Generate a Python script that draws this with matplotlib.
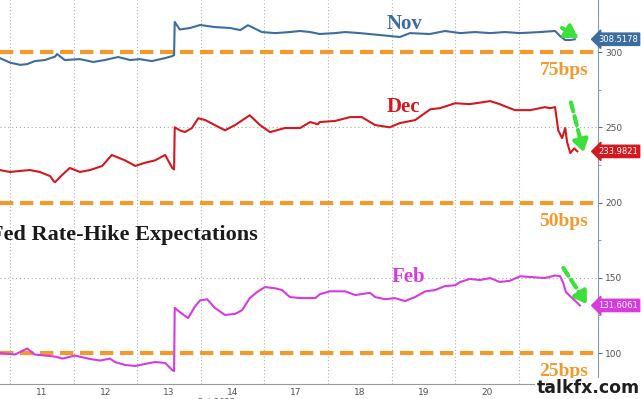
import matplotlib
matplotlib.use("Agg")
import matplotlib.pyplot as plt

# trading-day positions: 0 = start of Oct 11 session, 1 day per unit
nov_x = [-0.16, 0.0, 0.16, 0.27, 0.39, 0.55, 0.71, 0.74, 0.86, 1.10, 1.31, 1.49, 1.70, 1.89,
         2.04, 2.23, 2.44, 2.55, 2.58, 2.59, 2.67, 2.83, 2.99, 3.22, 3.46, 3.62, 3.74, 3.77,
         3.96, 4.17, 4.40, 4.56, 4.72, 4.87, 5.11, 5.27, 5.50, 5.82, 6.13, 6.29, 6.60, 6.84,
         7.08, 7.31, 7.55, 7.78, 8.02, 8.33, 8.57, 8.65, 8.73, 8.81, 8.88]
nov_y = [296, 293, 291.5, 292, 294, 294.7, 297, 298.7, 294.7, 295.3, 293.4, 294.7, 296.7, 294.7,
         295.3, 294, 296, 297.3, 298, 320, 315, 316, 318, 316.6, 316, 314.6, 317.8, 317.3,
         313.3, 312.6, 313.3, 314, 313.3, 312, 312.6, 313.3, 312.6, 311.3, 310, 312.6, 312, 314,
         312.6, 313.3, 312.6, 313.3, 312.6, 313.3, 314, 310.6, 308, 308, 308.5]

dec_x = [-0.16, 0.0, 0.16, 0.31, 0.47, 0.63, 0.69, 0.71, 0.82, 0.94, 1.10, 1.26, 1.45, 1.60,
         1.81, 1.97, 2.12, 2.28, 2.44, 2.55, 2.58, 2.59, 2.67, 2.75, 2.86, 2.96, 3.07, 3.22,
         3.38, 3.54, 3.77, 3.93, 4.09, 4.32, 4.56, 4.72, 4.84, 4.87, 5.11, 5.35, 5.53, 5.74,
         5.97, 6.13, 6.37, 6.61, 6.76, 7.00, 7.23, 7.55, 7.70, 7.78, 7.94, 8.18, 8.41, 8.49,
         8.57, 8.62, 8.68, 8.73, 8.76, 8.81, 8.87, 8.92]
dec_y = [221.6, 220.3, 221, 221.6, 220.3, 217.6, 214, 213.6, 218.3, 223, 220.3, 221.6, 224.3,
         231.6, 228, 224.3, 226.4, 228, 231.6, 223, 222, 250, 248, 246.8, 249.5, 256, 254.8,
         251.5, 248, 251.5, 258, 251.5, 246.8, 249.5, 249.5, 253.5, 252, 253.5, 254.2, 256.8,
         256.8, 251.5, 250, 252.8, 254.8, 262, 262.7, 266, 265.4, 267.4, 265.4, 264, 261.4,
         261.4, 263.4, 262.7, 263.4, 248, 242.8, 249.5, 240, 232.9, 236, 234.0]

feb_x = [-0.16, 0.08, 0.27, 0.39, 0.55, 0.71, 0.83, 1.02, 1.26, 1.42, 1.57, 1.65, 1.81, 1.97,
         2.12, 2.28, 2.44, 2.55, 2.58, 2.59, 2.67, 2.80, 2.91, 2.99, 3.10, 3.22, 3.38, 3.54,
         3.65, 3.77, 3.90, 4.01, 4.17, 4.28, 4.40, 4.56, 4.80, 4.87, 5.03, 5.27, 5.43, 5.66,
         5.74, 5.90, 6.05, 6.21, 6.37, 6.53, 6.68, 6.84, 7.00, 7.08, 7.23, 7.39, 7.55, 7.70,
         7.86, 8.02, 8.25, 8.41, 8.57, 8.65, 8.70, 8.74, 8.84, 8.92, 8.96]
feb_y = [100, 99, 103, 99, 98.3, 97.6, 96.3, 98.3, 96, 95, 96.3, 94, 92, 91.4, 92.7, 94, 93.4,
         88.7, 88, 130, 127.2, 123.2, 131, 135, 135.7, 130, 125.3, 126, 128.5, 136.5, 141, 143.8,
         143, 141.8, 137.2, 136.5, 136.5, 139, 141, 141, 138.5, 140, 137.2, 135.7, 136.5, 134.5,
         137.2, 141, 141.8, 144.5, 145, 147.2, 149.2, 148.5, 149.8, 147.2, 148, 151, 150.3,
         149.8, 151.5, 151, 146.5, 140.5, 136.5, 133.3, 131.6]

day_labels = ["11", "12", "13", "14", "17", "18", "19", "20"]
hike_levels = [300, 200, 100]
hike_labels = ["75bps", "50bps", "25bps"]
last_values = ["308.5178", "233.9821", "131.6061"]

nov_c = "#3d6d9e"
dec_c = "#d31820"
feb_c = "#d63be0"
orange = "#f29a2e"
green = "#3be03b"

fig = plt.figure(figsize=(6.41, 3.99), dpi=100)
ax = fig.add_axes([0.0, 15 / 399, 598 / 641, 384 / 399])
ax.set_xlim(-0.157, 9.245)
ax.set_ylim(79.4, 334.6)

# grid
for b in range(0, 9):
    ax.axvline(b, color="#b0b0b0", lw=0.8, ls=(0, (1, 2)), zorder=0)
for lvl in [150, 250]:
    ax.axhline(lvl, color="#a8a8a8", lw=0.8, ls=(0, (1, 2.5)), zorder=0)

# hike thresholds
for lvl, lab in zip(hike_levels, hike_labels):
    ax.axhline(lvl, color=orange, lw=3, dashes=(3.2, 1.6), zorder=1)
    ax.text(8.71, lvl - 12.5, lab, color=orange, fontsize=14, fontweight="bold",
            family="Liberation Serif", ha="center", va="center")

ax.plot(nov_x, nov_y, color=nov_c, lw=1.5, zorder=3)
ax.plot(dec_x, dec_y, color=dec_c, lw=1.5, zorder=3)
ax.plot(feb_x, feb_y, color=feb_c, lw=1.5, zorder=3)

ax.text(6.2, 318.6, "Nov", color=nov_c, fontsize=15, fontweight="bold", family="Liberation Serif",
        ha="center", va="center")
ax.text(6.18, 263.5, "Dec", color=dec_c, fontsize=15, fontweight="bold", family="Liberation Serif",
        ha="center", va="center")
ax.text(6.27, 150.5, "Feb", color=feb_c, fontsize=15, fontweight="bold", family="Liberation Serif",
        ha="center", va="center")
ax.text(-0.32, 178.4, "Fed Rate-Hike Expectations", color="#1a1a1a", fontsize=16,
        fontweight="bold", family="Liberation Serif", ha="left", va="center")

# green dashed arrows
arrows = [((8.68, 316.0), (8.93, 309.5)),
          ((8.82, 266.5), (9.02, 233.5)),
          ((8.70, 156.5), (9.07, 132.5))]
for (x0, y0), (x1, y1) in arrows:
    ax.annotate("", xy=(x1, y1), xytext=(x0, y0),
                arrowprops=dict(arrowstyle="-", color=green,
                                lw=3, linestyle=(0, (2.2, 1.2)), shrinkA=0, shrinkB=6))
    ax.annotate("", xy=(x1, y1), xytext=(x1 - (x1 - x0) * 0.2, y1 - (y1 - y0) * 0.2),
                arrowprops=dict(arrowstyle="-|>,head_length=0.7,head_width=0.45", color=green,
                                lw=3, shrinkA=0, shrinkB=0))

# right axis
ax.yaxis.tick_right()
ax.set_yticks([100, 150, 200, 250, 300])
ax.set_yticks([125, 175, 225, 275], minor=True)
ax.tick_params(axis="y", which="major", direction="out", length=3, color="#4a6f9a",
               labelsize=6.5, labelcolor="#555555", pad=2)
ax.tick_params(axis="y", which="minor", direction="out", length=2, color="#888888")

ax.set_xticks(range(0, 9))
ax.set_xticklabels([])
ax.set_xticks([b + 0.5 for b in range(len(day_labels))], minor=True)
ax.set_xticklabels(day_labels, minor=True)
ax.tick_params(axis="x", which="major", length=0)
ax.tick_params(axis="x", which="minor", length=0, labelsize=6.5, labelcolor="#555555", pad=3)

for s in ["top", "left"]:
    ax.spines[s].set_visible(False)
ax.spines["right"].set_color("#8a96a8")
ax.spines["bottom"].set_color("#9a9a9a")

# last value tags
for val, c in zip(last_values, [nov_c, dec_c, feb_c]):
    ax.annotate(val, xy=(1.0, float(val)), xycoords=("axes fraction", "data"),
                xytext=(638 / 641, float(val)), textcoords=("figure fraction", "data"),
                ha="right", va="center", fontsize=6, color="white",
                bbox=dict(boxstyle="larrow,pad=0.2", fc=c, ec=c))

fig.text(216 / 641, -0.008, "Oct 2022", fontsize=6, color="#555555", ha="center", va="center")
fig.text(0.998, 0.004, "talkfx.com", fontsize=12.5, fontweight="heavy", color="#1e1e1e",
         ha="right", va="bottom", family="DejaVu Sans",
         bbox=dict(boxstyle="square,pad=0.1", fc="white", ec="none"))

fig.savefig("out.png", dpi=100)
